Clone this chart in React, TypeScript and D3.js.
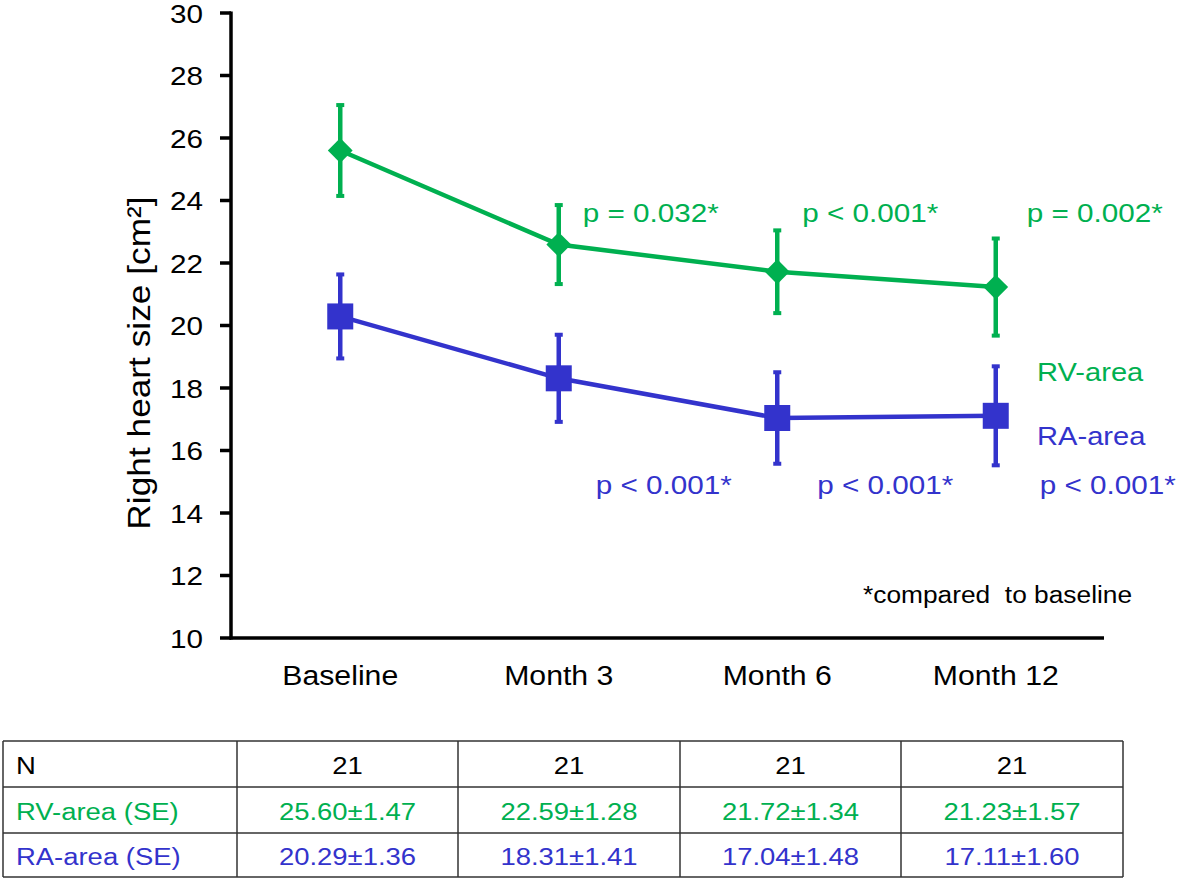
import React from "react";
import * as d3 from "d3";

const categories = ["Baseline", "Month 3", "Month 6", "Month 12"];
const rvMean = [25.6, 22.59, 21.72, 21.23];
const rvSE = [1.47, 1.28, 1.34, 1.57];
const raMean = [20.29, 18.31, 17.04, 17.11];
const raSE = [1.36, 1.41, 1.48, 1.6];
const nValues = [21, 21, 21, 21];
const yTicks = [10, 12, 14, 16, 18, 20, 22, 24, 26, 28, 30];
const rvPLabels = ["", "p = 0.032*", "p < 0.001*", "p = 0.002*"];
const raPLabels = ["", "p < 0.001*", "p < 0.001*", "p < 0.001*"];

const GREEN = "#00B050";
const BLUE = "#3333CC";
const FONT = "'Liberation Sans', Arial, sans-serif";
const SX = 1.12;

function T(props: any) {
  const { x, y, size, fill = "#000", anchor = "start", rotate = 0, children } = props;
  return (
    <g transform={`translate(${x},${y}) rotate(${rotate}) scale(${SX},1)`}>
      <text
        x={0}
        y={0}
        fontSize={size}
        fill={fill}
        textAnchor={anchor}
        fontFamily={FONT}
        style={{ whiteSpace: "pre" }}
      >
        {children}
      </text>
    </g>
  );
}

export default function App() {
  const W = 1181;
  const H = 882;
  const x = d3.scaleBand<string>().domain(categories).range([231, 1105]).padding(0);
  const cx = (c: string) => (x(c) as number) + x.bandwidth() / 2;
  const y = d3.scaleLinear().domain([10, 30]).range([638, 13]);

  const line = d3
    .line<number>()
    .x((_, i) => cx(categories[i]))
    .y((d) => y(d));

  const diamond = d3.symbol().type(d3.symbolDiamond2).size(392)();

  const errBars = (means: number[], se: number[], color: string, key: string) =>
    means.map((m, i) => {
      const px = cx(categories[i]);
      const top = y(m + se[i]);
      const bot = y(m - se[i]);
      return (
        <g key={key + i}>
          <line x1={px} x2={px} y1={top} y2={bot} stroke={color} strokeWidth={4.5} />
          <rect x={px - 4} y={top - 1.5} width={8} height={4} fill={color} />
          <rect x={px - 4} y={bot - 2.5} width={8} height={4} fill={color} />
        </g>
      );
    });

  // table layout
  const colX = [3, 237, 458, 680, 901, 1123];
  const rowY = [741, 787, 833, 877];
  const rowLabels = ["N", "RV-area (SE)", "RA-area (SE)"];
  const rowColors = ["#000", GREEN, BLUE];
  const rowVals = [
    nValues.map((n) => String(n)),
    rvMean.map((m, i) => `${m.toFixed(2)}±${rvSE[i].toFixed(2)}`),
    raMean.map((m, i) => `${m.toFixed(2)}±${raSE[i].toFixed(2)}`),
  ];

  const greenOffsets = [0, 24, 25, 31];
  const blueOffsets = [0, 37, 40, 44];

  return (
    <svg
      width={W}
      height={H}
      style={{ position: "absolute", left: 0, top: 0, background: "#fff" }}
    >
      <rect x={0} y={0} width={W} height={H} fill="#fff" />
      {/* y axis */}
      <line x1={231} x2={231} y1={y(30) - 1.5} y2={y(10) + 1.5} stroke="#000" strokeWidth={3.5} />
      {yTicks.map((t) => (
        <g key={"t" + t}>
          <line x1={220} x2={231} y1={y(t)} y2={y(t)} stroke="#000" strokeWidth={3.5} />
          <T x={203} y={y(t) + 9.5} size={26.5} anchor="end">
            {String(t)}
          </T>
        </g>
      ))}
      {/* x axis */}
      <line x1={229.5} x2={1104} y1={y(10)} y2={y(10)} stroke="#000" strokeWidth={3.5} />
      {categories.map((c) => (
        <T key={"x" + c} x={cx(c)} y={685} size={27} anchor="middle">
          {c}
        </T>
      ))}
      {/* y title */}
      <T x={150} y={363} size={31.5} anchor="middle" rotate={-90}>
        Right heart size [cm²]
      </T>

      {/* RV series */}
      <path d={line(rvMean) as string} fill="none" stroke={GREEN} strokeWidth={4.5} />
      {errBars(rvMean, rvSE, GREEN, "rv")}
      {rvMean.map((m, i) => (
        <path
          key={"d" + i}
          d={diamond as string}
          transform={`translate(${cx(categories[i])},${y(m)})`}
          fill={GREEN}
        />
      ))}

      {/* RA series */}
      <path d={line(raMean) as string} fill="none" stroke={BLUE} strokeWidth={4.5} />
      {errBars(raMean, raSE, BLUE, "ra")}
      {raMean.map((m, i) => (
        <rect
          key={"s" + i}
          x={cx(categories[i]) - 13}
          y={y(m) - 13}
          width={26}
          height={26}
          fill={BLUE}
        />
      ))}

      {/* p labels */}
      {rvPLabels.map((p, i) =>
        p ? (
          <T key={"gp" + i} x={cx(categories[i]) + greenOffsets[i]} y={222} size={26.5} fill={GREEN}>
            {p}
          </T>
        ) : null
      )}
      {raPLabels.map((p, i) =>
        p ? (
          <T key={"bp" + i} x={cx(categories[i]) + blueOffsets[i]} y={494} size={26.5} fill={BLUE}>
            {p}
          </T>
        ) : null
      )}

      {/* series names */}
      <T x={1037} y={381} size={26} fill={GREEN}>
        RV-area
      </T>
      <T x={1037} y={445} size={26} fill={BLUE}>
        RA-area
      </T>
      <T x={863} y={603} size={23.5}>
        {"*compared  to baseline"}
      </T>

      {/* table */}
      <g stroke="#333" strokeWidth={1.5}>
        {rowY.map((ry) => (
          <line key={"r" + ry} x1={colX[0]} x2={colX[colX.length - 1]} y1={ry} y2={ry} />
        ))}
        {colX.map((cxv) => (
          <line key={"c" + cxv} x1={cxv} x2={cxv} y1={rowY[0]} y2={rowY[rowY.length - 1]} />
        ))}
      </g>
      {rowLabels.map((lab, r) => (
        <g key={"row" + r}>
          <T x={16} y={(rowY[r] + rowY[r + 1]) / 2 + 9.5} size={24.5} fill={rowColors[r]}>
            {lab}
          </T>
          {rowVals[r].map((v, ci) => (
            <T
              key={"v" + r + ci}
              x={(colX[ci + 1] + colX[ci + 2]) / 2}
              y={(rowY[r] + rowY[r + 1]) / 2 + 9.5}
              size={24.5}
              anchor="middle"
              fill={rowColors[r]}
            >
              {v}
            </T>
          ))}
        </g>
      ))}
    </svg>
  );
}
